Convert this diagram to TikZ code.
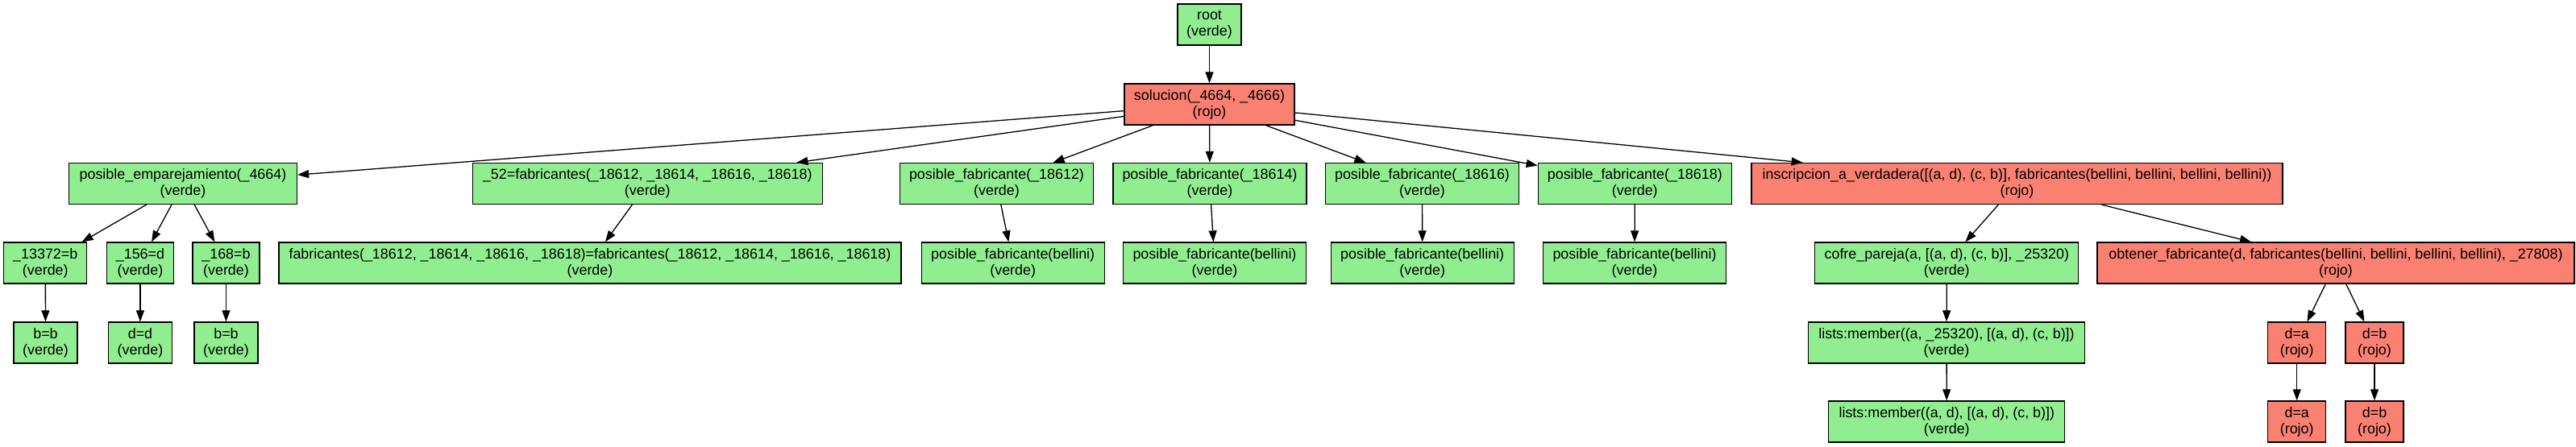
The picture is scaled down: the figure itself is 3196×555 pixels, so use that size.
\documentclass[tikz,border=0pt]{standalone}
\usepackage{fontspec}
\setmainfont{Liberation Sans}
\usetikzlibrary{arrows.meta}
\definecolor{verde}{RGB}{144,238,144}
\definecolor{rojo}{RGB}{250,128,114}
\tikzset{
  gbox/.style={draw=black, line width=0.65pt, rectangle, align=center,
    inner xsep=2pt, inner ysep=0pt, minimum height=25.5pt, minimum width=#1,
    font=\fontsize{8.95pt}{10pt}\selectfont},
  vbox/.style={gbox=#1, fill=verde},
  rbox/.style={gbox=#1, fill=rojo},
  edge/.style={draw=black, line width=0.65pt, -{Triangle[length=7pt,width=5pt]}}
}
\begin{document}
\begin{tikzpicture}[x=0.5pt,y=-0.5pt]
\useasboundingbox (0,0) rectangle (3196,555);
% rank 0 and 1
\node[vbox=39.5pt] (root) at (1500.5,30.5) {root\\(verde)};
\node[rbox=105.5pt] (sol) at (1500.5,129.5) {solucion(\_4664, \_4666)\\(rojo)};
% rank 2
\node[vbox=141.5pt] (pe) at (227,228) {posible\_emparejamiento(\_4664)\\(verde)};
\node[vbox=217pt] (f52) at (803.3,228) {\_52=fabricantes(\_18612, \_18614, \_18616, \_18618)\\(verde)};
\node[vbox=120pt] (pf1) at (1236.5,228) {posible\_fabricante(\_18612)\\(verde)};
\node[vbox=120pt] (pf2) at (1501,228) {posible\_fabricante(\_18614)\\(verde)};
\node[vbox=120pt] (pf3) at (1764.5,228) {posible\_fabricante(\_18616)\\(verde)};
\node[vbox=120pt] (pf4) at (2028.3,228) {posible\_fabricante(\_18618)\\(verde)};
\node[rbox=329.5pt] (ins) at (2502.5,228) {inscripcion\_a\_verdadera([(a, d), (c, b)], fabricantes(bellini, bellini, bellini, bellini))\\(rojo)};
% rank 3
\node[vbox=51.5pt] (a1) at (56.3,326.5) {\_13372=b\\(verde)};
\node[vbox=41.5pt] (a2) at (174,326.5) {\_156=d\\(verde)};
\node[vbox=41.5pt] (a3) at (280.5,326.5) {\_168=b\\(verde)};
\node[vbox=386pt] (feq) at (732,326.5) {fabricantes(\_18612, \_18614, \_18616, \_18618)=fabricantes(\_18612, \_18614, \_18616, \_18618)\\(verde)};
\node[vbox=113.5pt] (pb1) at (1256.7,326.5) {posible\_fabricante(bellini)\\(verde)};
\node[vbox=113.5pt] (pb2) at (1507,326.5) {posible\_fabricante(bellini)\\(verde)};
\node[vbox=113.5pt] (pb3) at (1764.7,326.5) {posible\_fabricante(bellini)\\(verde)};
\node[vbox=113.5pt] (pb4) at (2028,326.5) {posible\_fabricante(bellini)\\(verde)};
\node[vbox=163.5pt] (cofre) at (2415.3,326.5) {cofre\_pareja(a, [(a, d), (c, b)], \_25320)\\(verde)};
\node[rbox=296pt] (obt) at (2898,326.5) {obtener\_fabricante(d, fabricantes(bellini, bellini, bellini, bellini), \_27808)\\(rojo)};
% rank 4
\node[vbox=39.5pt] (b1) at (56.5,425.5) {b=b\\(verde)};
\node[vbox=39.5pt] (b2) at (174,425.5) {d=d\\(verde)};
\node[vbox=39.5pt] (b3) at (280.5,425.5) {b=b\\(verde)};
\node[vbox=171.5pt] (lm1) at (2415,425.5) {lists:member((a, \_25320), [(a, d), (c, b)])\\(verde)};
\node[rbox=36pt] (da1) at (2849.7,425.5) {d=a\\(rojo)};
\node[rbox=36pt] (db1) at (2946,425.5) {d=b\\(rojo)};
% rank 5
\node[vbox=146.5pt] (lm2) at (2415.3,523.5) {lists:member((a, d), [(a, d), (c, b)])\\(verde)};
\node[rbox=36pt] (da2) at (2849.7,523.5) {d=a\\(rojo)};
\node[rbox=36pt] (db2) at (2946,523.5) {d=b\\(rojo)};
% edges
\draw[edge] (root) -- (sol);
\draw[edge] (sol) -- (pe);
\draw[edge] (sol) -- (f52);
\draw[edge] (sol) -- (pf1);
\draw[edge] (sol) -- (pf2);
\draw[edge] (sol) -- (pf3);
\draw[edge] (sol) -- (pf4);
\draw[edge] (sol) -- (ins);
\draw[edge] (pe) -- (a1);
\draw[edge] (pe) -- (a2);
\draw[edge] (pe) -- (a3);
\draw[edge] (f52) -- (feq);
\draw[edge] (pf1) -- (pb1);
\draw[edge] (pf2) -- (pb2);
\draw[edge] (pf3) -- (pb3);
\draw[edge] (pf4) -- (pb4);
\draw[edge] (ins) -- (cofre);
\draw[edge] (ins) -- (obt);
\draw[edge] (a1) -- (b1);
\draw[edge] (a2) -- (b2);
\draw[edge] (a3) -- (b3);
\draw[edge] (cofre) -- (lm1);
\draw[edge] (lm1) -- (lm2);
\draw[edge] (obt) -- (da1);
\draw[edge] (obt) -- (db1);
\draw[edge] (da1) -- (da2);
\draw[edge] (db1) -- (db2);
\end{tikzpicture}
\end{document}
